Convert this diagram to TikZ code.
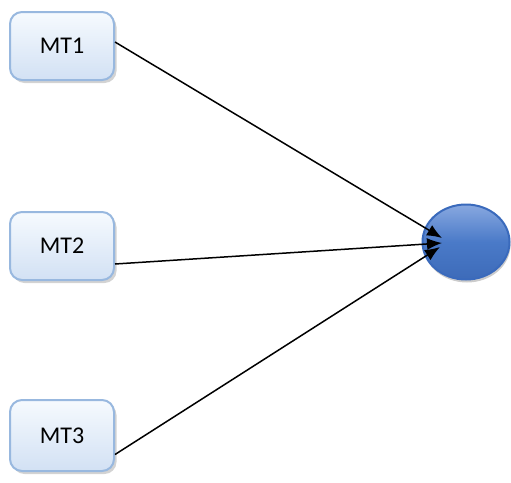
\documentclass[tikz,border=0pt]{standalone}
\usepackage{fontspec}
\setmainfont{Carlito}
\usetikzlibrary{arrows.meta,positioning,shadows}
\usetikzlibrary{shapes.geometric}
\definecolor{boxtop}{HTML}{F6FAFE}
\definecolor{boxbot}{HTML}{D2E1F4}
\definecolor{boxline}{HTML}{98B8DF}
\definecolor{elltop}{HTML}{88A8E0}
\definecolor{ellmid}{HTML}{4A7AC8}
\definecolor{ellbot}{HTML}{3D6BB9}
\definecolor{ellline}{HTML}{3A6ABC}

\begin{document}
\begin{tikzpicture}[x=1pt,y=-1pt]
	\tikzstyle{mt}=[rectangle,rounded corners=12pt,draw=boxline,line width=2pt,
		top color=boxtop,bottom color=boxbot,minimum width=104pt,minimum height=68pt,
		inner sep=0pt,font=\fontsize{24}{28}\selectfont,
		drop shadow={shadow xshift=2.5pt,shadow yshift=-3pt,opacity=0.35}]
	\tikzstyle{target}=[ellipse,draw=ellline,line width=2pt,minimum width=87pt,
		minimum height=75pt,inner sep=0pt,top color=elltop,bottom color=ellbot,middle color=ellmid,
		drop shadow={shadow xshift=1pt,shadow yshift=-3pt,opacity=0.4}]
	\tikzstyle{link}=[line width=1.5pt,-{Latex[length=15pt,width=12pt]}]

	\useasboundingbox (0,0) rectangle (511,482);

	\node [mt] (mt1) at (62,46)					{MT1};
	\node [mt] (mt2) [below=130pt of mt1]		{MT2};
	\node [mt,minimum height=71pt] (mt3) [below=118pt of mt2]	{MT3};
	\node [target] (ell) at (466,242)			{};

	\draw [link] ([yshift=4pt]mt1.east) -- ([xshift=-24pt,yshift=4pt]ell.center);
	\draw [link] ([yshift=-18pt]mt2.east) -- ([xshift=-24pt,yshift=-1pt]ell.center);
	\draw [link] ([yshift=-19pt]mt3.east) -- ([xshift=-26pt,yshift=-5pt]ell.center);
\end{tikzpicture}
\end{document}
